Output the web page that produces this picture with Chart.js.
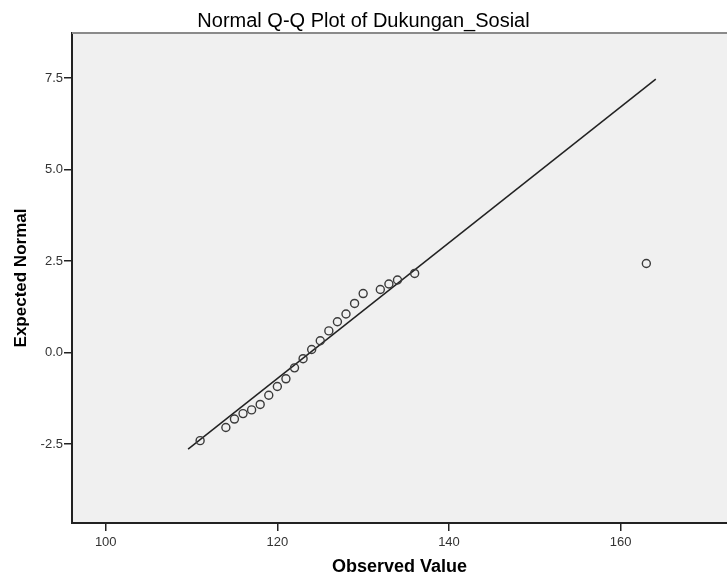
<!DOCTYPE html>
<html>
<head>
<meta charset="utf-8">
<script src="https://cdn.jsdelivr.net/npm/chart.js@4.4.1/dist/chart.umd.min.js"></script>
<style>
  html, body { margin: 0; padding: 0; background: #fff; }
  #wrap { width: 727px; height: 579px; }
</style>
</head>
<body>
<div id="wrap"><canvas id="qq"></canvas></div>
<script>
const observed = [111, 114, 115, 116, 117, 118, 119, 120, 121, 122, 123, 124,
  125, 126, 127, 128, 129, 130, 132, 133, 134, 136, 163];
const expected = [-2.41, -2.05, -1.82, -1.67, -1.57, -1.42, -1.17, -0.93, -0.72,
  -0.42, -0.17, 0.08, 0.32, 0.59, 0.84, 1.05, 1.34, 1.61, 1.72, 1.87, 1.98, 2.16, 2.43];

// reference line end points
const lineX = [109.6, 164.1];
const lineY = [-2.64, 7.47];

const xTicks = [100, 120, 140, 160];
const yTicks = [-2.5, 0, 2.5, 5, 7.5];

const points = observed.map((v, i) => ({ x: v, y: expected[i] }));
const refLine = lineX.map((v, i) => ({ x: v, y: lineY[i] }));

const plotBg = {
  id: "plotBg",
  beforeDraw(chart) {
    const { ctx, chartArea: a } = chart;
    ctx.save();
    ctx.fillStyle = "#f0f0f0";
    ctx.fillRect(a.left, a.top, a.right - a.left, a.bottom - a.top);
    ctx.restore();
  },
  afterDraw(chart) {
    const { ctx, chartArea: a } = chart;
    ctx.save();
    ctx.strokeStyle = "#8a8a8a";
    ctx.lineWidth = 2;
    ctx.beginPath();
    ctx.moveTo(a.left, a.top);
    ctx.lineTo(a.right, a.top);
    ctx.stroke();
    ctx.restore();
  },
};

new Chart(document.getElementById("qq"), {
  type: "scatter",
  data: {
    datasets: [
      {
        data: points,
        pointStyle: "circle",
        pointRadius: 4,
        pointBorderWidth: 1.4,
        pointBorderColor: "#3a3a3a",
        pointBackgroundColor: "rgba(0,0,0,0)",
      },
      {
        type: "line",
        data: refLine,
        borderColor: "#222",
        borderWidth: 1.5,
        pointRadius: 0,
        fill: false,
      },
    ],
  },
  options: {
    responsive: true,
    maintainAspectRatio: false,
    animation: false,
    layout: { padding: 0, autoPadding: false },
    plugins: {
      legend: { display: false },
      tooltip: { enabled: false },
      title: {
        display: true,
        text: "Normal Q-Q Plot of Dukungan_Sosial",
        color: "#000",
        font: { family: "Liberation Sans, Arial", size: 20, weight: "normal" },
        padding: { top: 9, bottom: 0 },
      },
    },
    scales: {
      x: {
        type: "linear",
        min: 96.07,
        max: 172.4,
        afterBuildTicks: (s) => { s.ticks = xTicks.map((v) => ({ value: v })); },
        afterFit: (s) => { s.height = 56; s.paddingLeft = 0; s.paddingRight = 0; },
        grid: { drawOnChartArea: false, drawTicks: true, tickLength: 8, color: "#222", lineWidth: 1.5 },
        border: { display: true, color: "#222", width: 2 },
        ticks: {
          color: "#333",
          padding: 4,
          maxRotation: 0,
          font: { family: "Liberation Sans, Arial", size: 13 },
        },
        title: {
          display: true,
          text: "Observed Value",
          color: "#000",
          font: { family: "Liberation Sans, Arial", size: 18, weight: "bold" },
          padding: { top: 1, bottom: 1 },
        },
      },
      y: {
        type: "linear",
        min: -4.66,
        max: 8.73,
        afterBuildTicks: (s) => { s.ticks = yTicks.map((v) => ({ value: v })); },
        afterFit: (s) => { s.width = 72; s.paddingTop = 0; s.paddingBottom = 0; },
        grid: { drawOnChartArea: false, drawTicks: true, tickLength: 8, color: "#222", lineWidth: 1.5 },
        border: { display: true, color: "#222", width: 2 },
        ticks: {
          color: "#333",
          padding: 1,
          font: { family: "Liberation Sans, Arial", size: 13 },
          callback: (v) => v.toFixed(1),
        },
        title: {
          display: true,
          text: "Expected Normal",
          color: "#000",
          font: { family: "Liberation Sans, Arial", size: 17, weight: "bold" },
          padding: { top: 11, bottom: 11 },
        },
      },
    },
  },
  plugins: [plotBg],
});
</script>
</body>
</html>
